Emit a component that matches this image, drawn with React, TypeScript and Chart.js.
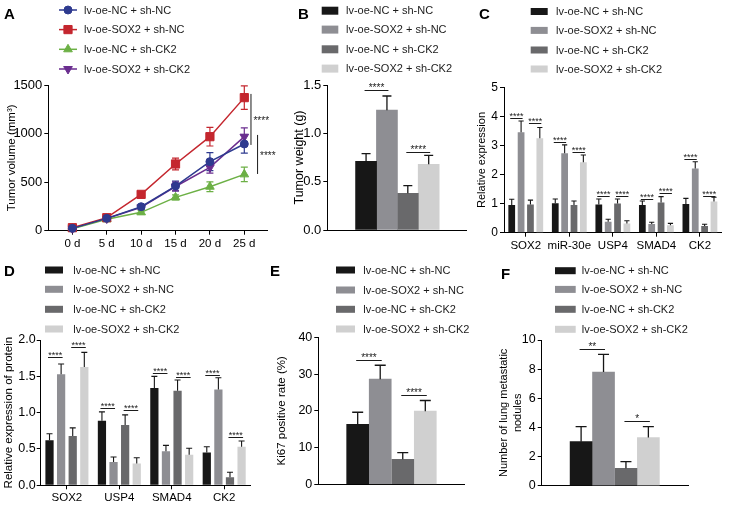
import React, { useEffect, useRef } from 'react';
import { Chart, registerables } from 'chart.js';
import { drawPoint } from 'chart.js/helpers';

Chart.register(...registerables);

const FONT = "'Liberation Sans', Arial, Helvetica, sans-serif";
const INK = '#1b1b1b';

// ---------- shared ----------
const groupNames = ['lv-oe-NC + sh-NC', 'lv-oe-SOX2 + sh-NC', 'lv-oe-NC + sh-CK2', 'lv-oe-SOX2 + sh-CK2'];
const barColors = ['#171717', '#8e8e93', '#69696b', '#d0d0d0'];
const lineColors = ['#2e3a8f', '#c4262e', '#6cb045', '#6a2d8f'];

// ---------- A: tumor volume ----------
const days = [0, 5, 10, 15, 20, 25];
const dayLabels = ['0 d', '5 d', '10 d', '15 d', '20 d', '25 d'];
const volYTicks = [0, 500, 1000, 1500];
const volNCshNC = [24, 127, 247, 460, 711, 893];
const volNCshNCErr = [8, 12, 20, 50, 92, 95];
const volSOX2shNC = [31, 134, 374, 687, 968, 1370];
const volSOX2shNCErr = [10, 15, 25, 60, 96, 120];
const volNCshCK2 = [20, 117, 189, 343, 453, 580];
const volNCshCK2Err = [8, 12, 18, 25, 50, 75];
const volSOX2shCK2 = [24, 125, 240, 455, 652, 968];
const volSOX2shCK2Err = [8, 12, 20, 45, 60, 90];
const volSig = [[25.97, 883, 1408, '****'], [26.93, 584, 986, '****']];

// ---------- B: tumor weight ----------
const weightYTicks = [0, 0.5, 1.0, 1.5];
const weightYLabels = ['0.0', '0.5', '1.0', '1.5'];
const weightMeans = [0.71, 1.24, 0.38, 0.68];
const weightErrs = [0.08, 0.146, 0.079, 0.092];
const weightSig = [[0, 1, 1.448, '****'], [2, 3, 0.807, '****']];

// ---------- C: relative expression (mRNA) ----------
const cGenes = ['SOX2', 'miR-30e', 'USP4', 'SMAD4', 'CK2'];
const cYTicks = [0, 1, 2, 3, 4, 5];
const cNCshNC = [0.95, 1.01, 0.97, 0.95, 0.99];
const cNCshNCErr = [0.2, 0.15, 0.19, 0.14, 0.19];
const cSOX2shNC = [3.45, 2.73, 0.38, 0.3, 2.21];
const cSOX2shNCErr = [0.39, 0.29, 0.08, 0.06, 0.23];
const cNCshCK2 = [0.97, 0.95, 1.0, 1.04, 0.23];
const cNCshCK2Err = [0.15, 0.14, 0.16, 0.2, 0.06];
const cSOX2shCK2 = [3.25, 2.42, 0.32, 0.26, 1.07];
const cSOX2shCK2Err = [0.37, 0.25, 0.09, 0.06, 0.15];
const cSig = [
  [0, 0, 1, 3.93, '****'], [0, 2, 3, 3.78, '****'],
  [1, 0, 1, 3.11, '****'], [1, 2, 3, 2.79, '****'],
  [2, 0, 1, 1.26, '****'], [2, 2, 3, 1.26, '****'],
  [3, 0, 1, 1.15, '****'], [3, 2, 3, 1.38, '****'],
  [4, 0, 1, 2.53, '****'], [4, 2, 3, 1.26, '****'],
];

// ---------- D: relative protein expression ----------
const dProteins = ['SOX2', 'USP4', 'SMAD4', 'CK2'];
const dYTicks = [0, 0.5, 1.0, 1.5, 2.0];
const dYLabels = ['0.0', '0.5', '1.0', '1.5', '2.0'];
const dNCshNC = [0.62, 0.89, 1.34, 0.45];
const dNCshNCErr = [0.09, 0.12, 0.16, 0.08];
const dSOX2shNC = [1.53, 0.32, 0.47, 1.32];
const dSOX2shNCErr = [0.14, 0.07, 0.08, 0.16];
const dNCshCK2 = [0.68, 0.83, 1.3, 0.11];
const dNCshCK2Err = [0.11, 0.14, 0.15, 0.07];
const dSOX2shCK2 = [1.63, 0.3, 0.42, 0.53];
const dSOX2shCK2Err = [0.2, 0.08, 0.09, 0.08];
const dSig = [
  [0, 0, 1, 1.76, '****'], [0, 2, 3, 1.9, '****'],
  [1, 0, 1, 1.06, '****'], [1, 2, 3, 1.03, '****'],
  [2, 0, 1, 1.54, '****'], [2, 2, 3, 1.49, '****'],
  [3, 0, 1, 1.52, '****'], [3, 2, 3, 0.67, '****'],
];

// ---------- E: Ki67 ----------
const kiYTicks = [0, 10, 20, 30, 40];
const kiMeans = [16.3, 28.6, 6.8, 19.9];
const kiErrs = [3.3, 3.8, 1.8, 2.9];
const kiSig = [[0, 1, 33.8, '****'], [2, 3, 24.2, '****']];

// ---------- F: lung metastatic nodules ----------
const noduleYTicks = [0, 2, 4, 6, 8, 10];
const noduleMeans = [3.02, 7.8, 1.19, 3.3];
const noduleErrs = [1.03, 1.22, 0.46, 0.75];
const noduleSig = [[0, 1, 9.38, '**'], [2, 3, 4.46, '*']];

// ---------- plugins ----------
function drawErrors(chart: any, opts: any) {
  const { ctx } = chart;
  const ys = chart.scales.y;
  chart.data.datasets.forEach((ds: any, i: number) => {
    if (!ds.errors) return;
    const meta = chart.getDatasetMeta(i);
    ctx.save();
    ctx.strokeStyle = opts.useDatasetColor ? ds.borderColor : opts.color || '#111';
    ctx.lineWidth = opts.lineWidth || 1;
    meta.data.forEach((el: any, j: number) => {
      const raw = ds.data[j];
      const v = typeof raw === 'number' ? raw : raw.y;
      const e = ds.errors[j];
      const x = el.x;
      const yTop = ys.getPixelForValue(v + e);
      const yBot = ys.getPixelForValue(opts.both ? v - e : v);
      const c = opts.cap;
      ctx.beginPath();
      ctx.moveTo(x, yBot);
      ctx.lineTo(x, yTop);
      ctx.moveTo(x - c, yTop);
      ctx.lineTo(x + c, yTop);
      if (opts.both) {
        ctx.moveTo(x - c, yBot);
        ctx.lineTo(x + c, yBot);
      }
      ctx.stroke();
    });
    ctx.restore();
  });
}

const errorBarPlugin = {
  id: 'errorBars',
  beforeDatasetsDraw(chart: any, _a: any, opts: any) {
    if (opts && opts.behind) drawErrors(chart, opts);
  },
  afterDatasetsDraw(chart: any, _a: any, opts: any) {
    if (opts && opts.cap !== undefined && !opts.behind) drawErrors(chart, opts);
  },
};

const sigPlugin = {
  id: 'sigMarks',
  afterDraw(chart: any, _a: any, opts: any) {
    if (!opts || !opts.items) return;
    const { ctx } = chart;
    const ys = chart.scales.y;
    const xs = chart.scales.x;
    ctx.save();
    ctx.strokeStyle = INK;
    ctx.fillStyle = INK;
    ctx.lineWidth = 1;
    ctx.font = `${opts.fontSize || 9}px ${FONT}`;
    opts.items.forEach((it: any) => {
      if (opts.kind === 'vertical') {
        const [xv, y1, y2, label] = it;
        const x = xs.getPixelForValue(xv);
        const p1 = ys.getPixelForValue(y1);
        const p2 = ys.getPixelForValue(y2);
        ctx.beginPath();
        ctx.moveTo(x, p1);
        ctx.lineTo(x, p2);
        ctx.stroke();
        ctx.textAlign = 'left';
        ctx.textBaseline = 'alphabetic';
        ctx.fillText(label, x + 2.5, (p1 + p2) / 2 + 5);
        return;
      }
      let xa: number, xb: number, yv: number, label: string;
      if (opts.kind === 'group') {
        const [cat, a, b, y, l] = it;
        xa = chart.getDatasetMeta(a).data[cat].x;
        xb = chart.getDatasetMeta(b).data[cat].x;
        yv = y;
        label = l;
      } else {
        const [a, b, y, l] = it;
        xa = chart.getDatasetMeta(a).data[0].x;
        xb = chart.getDatasetMeta(b).data[0].x;
        yv = y;
        label = l;
      }
      const ext = opts.extend || 0;
      const py = Math.round(ys.getPixelForValue(yv)) + 0.5;
      ctx.beginPath();
      ctx.moveTo(xa - ext, py);
      ctx.lineTo(xb + ext, py);
      ctx.stroke();
      ctx.textAlign = 'center';
      ctx.textBaseline = 'alphabetic';
      ctx.fillText(label, (xa + xb) / 2, py + (opts.textDy || 0.5));
    });
    ctx.restore();
  },
};

const legendPlugin = {
  id: 'panelLegend',
  afterDraw(chart: any, _a: any, opts: any) {
    if (!opts || !opts.rows) return;
    const { ctx } = chart;
    ctx.save();
    // panel letter
    ctx.fillStyle = '#000';
    ctx.font = `bold 15px ${FONT}`;
    ctx.textAlign = 'left';
    ctx.textBaseline = 'middle';
    ctx.fillText(opts.letter, opts.letterX, opts.letterY);
    ctx.font = `11px ${FONT}`;
    chart.data.datasets.forEach((ds: any, i: number) => {
      const y = opts.rows[i];
      if (opts.kind === 'line') {
        ctx.strokeStyle = ds.borderColor;
        ctx.fillStyle = ds.borderColor;
        ctx.lineWidth = 1.5;
        ctx.beginPath();
        ctx.moveTo(opts.lineX1, y);
        ctx.lineTo(opts.lineX2, y);
        ctx.stroke();
        ctx.lineWidth = 1;
        drawPoint(ctx, { pointStyle: ds.pointStyle, radius: ds.pointRadius, rotation: ds.pointRotation || 0, borderWidth: 1 }, opts.markerX, y);
      } else {
        ctx.fillStyle = ds.backgroundColor;
        ctx.fillRect(opts.swatchX, y - opts.swatchH / 2, opts.swatchW, opts.swatchH);
      }
      ctx.fillStyle = INK;
      ctx.textAlign = 'left';
      ctx.textBaseline = 'middle';
      ctx.fillText(ds.label, opts.textX, y + 0.5);
    });
    ctx.restore();
  },
};

// ---------- scale helpers ----------
function yAxis(o: any) {
  return {
    type: 'linear',
    position: 'left',
    min: o.ticks[0],
    max: o.ticks[o.ticks.length - 1],
    afterBuildTicks: (s: any) => {
      s.ticks = o.ticks.map((v: number) => ({ value: v }));
    },
    afterFit: (s: any) => {
      s.width = o.width;
    },
    grid: { display: true, drawOnChartArea: false, drawTicks: true, tickLength: 4, tickColor: '#000', tickWidth: 1 },
    border: { display: true, color: '#000', width: 1 },
    ticks: {
      color: '#000',
      font: { family: FONT, size: o.tickSize || 12.5 },
      padding: o.tickPad ?? 2,
      callback: (_v: any, i: number) => (o.labels ? o.labels[i] : String(o.ticks[i])),
    },
    title: {
      display: true,
      text: o.title,
      color: '#000',
      font: { family: FONT, size: o.titleSize || 11, lineHeight: o.lineHeight || 1.2 },
      padding: { top: o.titlePad, bottom: 0 },
    },
  };
}

function xCategory(labels: string[], height: number) {
  return {
    type: 'category',
    labels,
    offset: true,
    afterFit: (s: any) => {
      s.height = height;
    },
    grid: { display: true, offset: false, drawOnChartArea: false, drawTicks: true, tickLength: 4, tickColor: '#000', tickWidth: 1 },
    border: { display: true, color: '#000', width: 1 },
    ticks: { color: '#000', font: { family: FONT, size: 11.5 }, padding: 2, maxRotation: 0, autoSkip: false },
  };
}

function xPlain(min: number, max: number, height: number) {
  return {
    type: 'linear',
    min,
    max,
    afterFit: (s: any) => {
      s.height = height;
    },
    grid: { display: false },
    border: { display: true, color: '#000', width: 1 },
    ticks: { display: false },
  };
}

const baseOpts = {
  responsive: false,
  maintainAspectRatio: false,
  animation: false,
  devicePixelRatio: 1,
  events: [],
};

// ---------- configs ----------
function makeA() {
  const series = [
    [volNCshNC, volNCshNCErr, 'circle', 4, 0],
    [volSOX2shNC, volSOX2shNCErr, 'rect', 5.8, 0],
    [volNCshCK2, volNCshCK2Err, 'triangle', 5, 0],
    [volSOX2shCK2, volSOX2shCK2Err, 'triangle', 5, 180],
  ];
  return {
    type: 'line',
    data: {
      datasets: series.map(([vals, errs, style, r, rot]: any, i) => ({
        label: groupNames[i],
        data: days.map((d, j) => ({ x: d, y: vals[j] })),
        errors: errs,
        borderColor: lineColors[i],
        backgroundColor: lineColors[i],
        pointBackgroundColor: lineColors[i],
        pointBorderColor: lineColors[i],
        pointStyle: style,
        pointRadius: r,
        pointRotation: rot,
        pointBorderWidth: 1,
        borderWidth: 1.5,
        tension: 0,
        fill: false,
        clip: false,
      })),
    },
    options: {
      ...baseOpts,
      layout: { padding: { left: 0, top: 85, right: 25, bottom: 0 } },
      scales: {
        x: {
          type: 'linear',
          min: -3.5,
          max: 28.3,
          afterBuildTicks: (s: any) => {
            s.ticks = days.map((v) => ({ value: v }));
          },
          afterFit: (s: any) => {
            s.height = 21.3;
          },
          grid: { display: true, drawOnChartArea: false, drawTicks: true, tickLength: 4, tickColor: '#000', tickWidth: 1 },
          border: { display: true, color: '#000', width: 1 },
          ticks: { color: '#000', font: { family: FONT, size: 11.5 }, padding: 2, maxRotation: 0, autoSkip: false, callback: (_v: any, i: number) => dayLabels[i] },
        },
        y: yAxis({ ticks: volYTicks, width: 48.3, title: 'Tumor volume (mm³)', titlePad: 4.5, titleSize: 11.5, tickSize: 13 }),
      },
      plugins: {
        legend: { display: false },
        tooltip: { enabled: false },
        errorBars: { behind: true, both: true, cap: 3.5, lineWidth: 1.2, useDatasetColor: true },
        sigMarks: { kind: 'vertical', items: volSig, fontSize: 10 },
        panelLegend: { kind: 'line', rows: [10, 29.6, 49.3, 69], lineX1: 59, lineX2: 77, markerX: 68, textX: 84, letter: 'A', letterX: 4, letterY: 15 },
      },
    },
  };
}

function makeSingleBars(o: any) {
  return {
    type: 'bar',
    data: {
      datasets: o.means.map((v: number, i: number) => ({
        label: groupNames[i],
        data: [{ x: i + 1, y: v }],
        errors: [o.errs[i]],
        backgroundColor: barColors[i],
        borderWidth: 0,
        barThickness: o.barW,
        grouped: false,
      })),
    },
    options: {
      ...baseOpts,
      layout: { padding: { left: 0, top: o.top, right: o.W - o.right, bottom: 0 } },
      scales: {
        x: xPlain(o.xmin, o.xmax, o.H - o.bottom),
        y: yAxis({ ticks: o.ticks, labels: o.labels, width: o.left, title: o.title, titlePad: o.titlePad, lineHeight: o.lineHeight, tickPad: o.tickPad, titleSize: o.titleSize, tickSize: o.tickSize }),
      },
      plugins: {
        legend: { display: false },
        tooltip: { enabled: false },
        errorBars: { both: false, cap: o.cap, lineWidth: 1.3, color: '#161616' },
        sigMarks: { kind: 'single', items: o.sig, fontSize: 10, extend: 1.5, textDy: 0 },
        panelLegend: o.legend,
      },
    },
  };
}

function makeGroupBars(o: any) {
  return {
    type: 'bar',
    data: {
      labels: o.cats,
      datasets: o.series.map(([vals, errs]: any, i: number) => ({
        label: groupNames[i],
        data: vals,
        errors: errs,
        backgroundColor: barColors[i],
        borderWidth: 0,
        barPercentage: o.barPct,
        categoryPercentage: o.catPct,
      })),
    },
    options: {
      ...baseOpts,
      layout: { padding: { left: 0, top: o.top, right: o.W - o.right, bottom: 0 } },
      scales: {
        x: xCategory(o.cats, o.H - o.bottom),
        y: yAxis({ ticks: o.ticks, labels: o.labels, width: o.left, title: o.title, titlePad: o.titlePad, tickPad: o.tickPad, titleSize: o.titleSize, tickSize: o.tickSize }),
      },
      plugins: {
        legend: { display: false },
        tooltip: { enabled: false },
        errorBars: { both: false, cap: o.cap, lineWidth: 1.1, color: '#161616' },
        sigMarks: { kind: 'group', items: o.sig, fontSize: 9, extend: 1.5, textDy: 0 },
        panelLegend: o.legend,
      },
    },
  };
}

const makeB = () =>
  makeSingleBars({
    means: weightMeans, errs: weightErrs, sig: weightSig, ticks: weightYTicks, labels: weightYLabels,
    title: 'Tumor weight (g)', titlePad: 0, titleSize: 12.5, tickSize: 13,
    W: 178, H: 252, left: 35.3, top: 85, right: 174, bottom: 230,
    xmin: 0.25, xmax: 4.68, barW: 21, cap: 4.5,
    legend: { kind: 'box', rows: [10.7, 29.6, 49.3, 68.6], swatchX: 29.7, swatchW: 16.6, swatchH: 8, textX: 54, letter: 'B', letterX: 6, letterY: 15 },
  });

const makeC = () =>
  makeGroupBars({
    cats: cGenes,
    series: [[cNCshNC, cNCshNCErr], [cSOX2shNC, cSOX2shNCErr], [cNCshCK2, cNCshCK2Err], [cSOX2shCK2, cSOX2shCK2Err]],
    sig: cSig, ticks: cYTicks, title: 'Relative expression', titlePad: 5.4, tickSize: 12,
    W: 259, H: 252, left: 34, top: 87.3, right: 251.7, bottom: 232.7, barPct: 0.72, catPct: 0.86, cap: 2.6,
    legend: { kind: 'box', rows: [11.5, 30.4, 50, 69], swatchX: 60.7, swatchW: 17, swatchH: 7, textX: 86, letter: 'C', letterX: 9, letterY: 15 },
  });

const makeD = () =>
  makeGroupBars({
    cats: dProteins,
    series: [[dNCshNC, dNCshNCErr], [dSOX2shNC, dSOX2shNCErr], [dNCshCK2, dNCshCK2Err], [dSOX2shCK2, dSOX2shCK2Err]],
    sig: dSig, ticks: dYTicks, labels: dYLabels, title: 'Relative expression of protein', titlePad: 1.5, tickPad: 1, titleSize: 11.5,
    W: 262, H: 255, left: 40.7, top: 88, right: 250.4, bottom: 233.3, barPct: 0.71, catPct: 0.885, cap: 3,
    legend: { kind: 'box', rows: [18, 37.3, 57.3, 77], swatchX: 45, swatchW: 18, swatchH: 7, textX: 73.3, letter: 'D', letterX: 4, letterY: 19.5 },
  });

const makeE = () =>
  makeSingleBars({
    means: kiMeans, errs: kiErrs, sig: kiSig, ticks: kiYTicks,
    title: 'Ki67 positive rate (%)', titlePad: 13, titleSize: 11.5, W: 228, H: 255, left: 56.3, top: 85.3, right: 202, bottom: 232.3,
    xmin: 0.33, xmax: 4.64, barW: 22, cap: 5.5,
    legend: { kind: 'box', rows: [18, 38, 57.3, 77], swatchX: 74, swatchW: 19, swatchH: 7, textX: 101.3, letter: 'E', letterX: 8, letterY: 20 },
  });

const makeF = () =>
  makeSingleBars({
    means: noduleMeans, errs: noduleErrs, sig: noduleSig, ticks: noduleYTicks,
    title: ['Number of lung metastatic', 'nodules'], titlePad: 6.5, lineHeight: 1.273,
    W: 239, H: 255, left: 51.7, top: 88, right: 198, bottom: 233.7,
    xmin: 0.33, xmax: 4.68, barW: 22, cap: 5.5,
    legend: { kind: 'box', rows: [18.7, 37.4, 57.3, 77.3], swatchX: 65, swatchW: 20.7, swatchH: 7, textX: 91.7, letter: 'F', letterX: 11, letterY: 22.5 },
  });

function ChartBox({ left, top, width, height, make }: any) {
  const ref = useRef<HTMLCanvasElement>(null);
  useEffect(() => {
    const chart = new Chart(ref.current as HTMLCanvasElement, { ...make(), plugins: [errorBarPlugin, sigPlugin, legendPlugin] } as any);
    return () => chart.destroy();
  }, []);
  return <canvas ref={ref} width={width} height={height} style={{ position: 'absolute', left, top, width, height, display: 'block' }} />;
}

export default function App() {
  return (
    <div style={{ position: 'absolute', left: 0, top: 0, width: 729, height: 507, background: '#fff', overflow: 'hidden' }}>
      <ChartBox left={0} top={0} width={292} height={252} make={makeA} />
      <ChartBox left={292} top={0} width={178} height={252} make={makeB} />
      <ChartBox left={470} top={0} width={259} height={252} make={makeC} />
      <ChartBox left={0} top={252} width={262} height={255} make={makeD} />
      <ChartBox left={262} top={252} width={228} height={255} make={makeE} />
      <ChartBox left={490} top={252} width={239} height={255} make={makeF} />
    </div>
  );
}
